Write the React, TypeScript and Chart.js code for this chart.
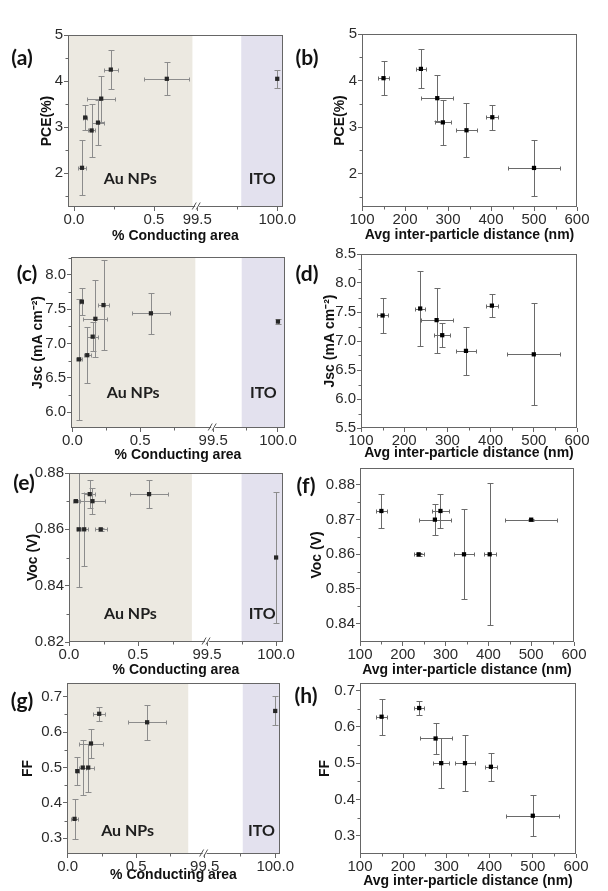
import React, { useEffect, useRef } from "react";
import { Chart, registerables } from "chart.js";
Chart.register(...registerables);

// ---------------- DATA (ordered by inter-particle distance) ----------------
const distance = [150, 237, 275, 288, 343, 403, 500];
const distanceErr = [12, 12, 37, 19, 24, 14, 61];
const area = [0.58, 0.23, 0.17, 0.15, 0.11, 0.07, 0.05];
const areaErr = [0.14, 0.044, 0.088, 0.039, 0.024, 0.012, 0.024];
const pce = [4.05, 4.25, 3.62, 3.1, 2.93, 3.21, 2.12];
const pceErr = [0.36, 0.42, 0.5, 0.48, 0.58, 0.27, 0.6];
const jsc = [7.44, 7.56, 7.36, 7.1, 6.83, 7.61, 6.77];
const jscErr = [0.3, 0.65, 0.56, 0.21, 0.41, 0.2, 0.88];
const voc = [0.8725, 0.86, 0.87, 0.8725, 0.86, 0.86, 0.87];
const vocErr = [0.005, 0.0005, 0.0045, 0.005, 0.013, 0.0205, 0.0003];
const ff = [0.628, 0.652, 0.568, 0.5, 0.5, 0.49, 0.355];
const ffErr = [0.05, 0.02, 0.042, 0.068, 0.077, 0.039, 0.057];

// ITO reference (conducting area 100 %): PCE, Jsc, Voc, FF
const itoArea = 100;
const itoValues = [4.05, 7.32, 0.85, 0.66];
const itoErrs = [0.19, 0.03, 0.0233, 0.041];

// ---------------- TICKS ----------------
const areaTickValues = [0, 0.5, 99.5, 100];
const areaTickLabels = ["0.0", "0.5", "99.5", "100.0"];
const areaMinorValues = [0.25, 0.75, 99.75];
const distTickValues = [100, 200, 300, 400, 500, 600];
const distTickLabels = ["100", "200", "300", "400", "500", "600"];
const distMinorValues = [150, 250, 350, 450, 550];

const pceTicks = [2, 3, 4, 5];
const pceTickLabels = ["2", "3", "4", "5"];
const pceMinor = [1.5, 2.5, 3.5, 4.5];
const jscTicksLeft = [6.0, 6.5, 7.0, 7.5, 8.0];
const jscTickLabelsLeft = ["6.0", "6.5", "7.0", "7.5", "8.0"];
const jscTicksRight = [5.5, 6.0, 6.5, 7.0, 7.5, 8.0, 8.5];
const jscTickLabelsRight = ["5.5", "6.0", "6.5", "7.0", "7.5", "8.0", "8.5"];
const jscMinor = [5.75, 6.25, 6.75, 7.25, 7.75, 8.25];
const vocTicksLeft = [0.82, 0.84, 0.86, 0.88];
const vocTickLabelsLeft = ["0.82", "0.84", "0.86", "0.88"];
const vocMinorLeft = [0.83, 0.85, 0.87];
const vocTicksRight = [0.84, 0.85, 0.86, 0.87, 0.88];
const vocTickLabelsRight = ["0.84", "0.85", "0.86", "0.87", "0.88"];
const vocMinorRight = [0.845, 0.855, 0.865, 0.875];
const ffTicks = [0.3, 0.4, 0.5, 0.6, 0.7];
const ffTickLabels = ["0.3", "0.4", "0.5", "0.6", "0.7"];
const ffMinor = [0.35, 0.45, 0.55, 0.65];

// ---------------- LAYOUT / STYLE ----------------
const FONT = "'Liberation Sans', Arial, Helvetica, sans-serif";
const LABEL_FONT = "Lato, 'Open Sans', sans-serif";
const AU_COLOR = "#ece9e1";
const ITO_COLOR = "#e3e1ee";
const FRAME = "#666666";
const TITLE_LH = 14 * 1.2;

type Panel = {
  key: string;
  label: string;
  lx: number;
  ly: number;
  col: number;
  plot: [number, number, number, number];
  yTitleX: number;
  xTitleY: number;
  broken: boolean;
  yTitle: string;
  yMin: number;
  yMax: number;
  yVals: number[];
  yErr: number[];
  yTicks: number[];
  yLabels: string[];
  yMinor: number[];
  ito?: number;
  xMin?: number;
  xMax?: number;
  ub?: number;
  k?: number;
  auEnd?: number;
  itoStart?: number;
  textOff?: number;
};

const panels: Panel[] = [
  { key: "a", label: "(a)", lx: 22, ly: 56, col: 0, plot: [68, 35, 283, 207], yTitleX: 47, xTitleY: 236, broken: true,
    yTitle: "PCE(%)", yMin: 1.27, yMax: 5, yVals: pce, yErr: pceErr, yTicks: pceTicks, yLabels: pceTickLabels, yMinor: pceMinor,
    ito: 0, xMin: -0.0375, xMax: 1.306, ub: 0.77, k: 1.0, auEnd: 0.74, itoStart: 99.775, textOff: 28 },
  { key: "b", label: "(b)", lx: 307, ly: 56, col: 1, plot: [362, 34, 577, 207], yTitleX: 340, xTitleY: 235, broken: false,
    yTitle: "PCE(%)", yMin: 1.28, yMax: 5, yVals: pce, yErr: pceErr, yTicks: pceTicks, yLabels: pceTickLabels, yMinor: pceMinor },
  { key: "c", label: "(c)", lx: 27, ly: 272, col: 0, plot: [71, 257, 285, 428], yTitleX: 38, xTitleY: 455, broken: true,
    yTitle: "Jsc (mA cm\u207B\u00B2)", yMin: 5.77, yMax: 8.26, yVals: jsc, yErr: jscErr, yTicks: jscTicksLeft, yLabels: jscTickLabelsLeft, yMinor: jscMinor,
    ito: 1, xMin: -0.01, xMax: 1.57, ub: 1.04, k: 0.956, auEnd: 0.908, itoStart: 99.72, textOff: 35 },
  { key: "d", label: "(d)", lx: 307, ly: 272, col: 1, plot: [361, 254, 577, 428], yTitleX: 330, xTitleY: 453, broken: false,
    yTitle: "Jsc (mA cm\u207B\u00B2)", yMin: 5.5, yMax: 8.5, yVals: jsc, yErr: jscErr, yTicks: jscTicksRight, yLabels: jscTickLabelsRight, yMinor: jscMinor },
  { key: "e", label: "(e)", lx: 24, ly: 481, col: 0, plot: [69, 473, 283, 642], yTitleX: 33, xTitleY: 670, broken: true,
    yTitle: "Voc (V)", yMin: 0.82, yMax: 0.88, yVals: voc, yErr: vocErr, yTicks: vocTicksLeft, yLabels: vocTickLabelsLeft, yMinor: vocMinorLeft,
    ito: 2, xMin: 0, xMax: 1.55, ub: 1.0, k: 1.0, auEnd: 0.89, itoStart: 99.75, textOff: 28 },
  { key: "f", label: "(f)", lx: 306, ly: 484, col: 1, plot: [360, 468, 574, 642], yTitleX: 317, xTitleY: 670, broken: false,
    yTitle: "Voc (V)", yMin: 0.8347, yMax: 0.8849, yVals: voc, yErr: vocErr, yTicks: vocTicksRight, yLabels: vocTickLabelsRight, yMinor: vocMinorRight },
  { key: "g", label: "(g)", lx: 22, ly: 699, col: 0, plot: [67, 683, 280, 854], yTitleX: 28, xTitleY: 875, broken: true,
    yTitle: "FF", yMin: 0.2557, yMax: 0.739, yVals: ff, yErr: ffErr, yTicks: ffTicks, yLabels: ffTickLabels, yMinor: ffMinor,
    ito: 3, xMin: -0.005, xMax: 1.55, ub: 1.0, k: 1.03, auEnd: 0.88, itoStart: 99.77, textOff: 23 },
  { key: "h", label: "(h)", lx: 306, ly: 694, col: 1, plot: [360, 683, 576, 854], yTitleX: 325, xTitleY: 881, broken: false,
    yTitle: "FF", yMin: 0.2495, yMax: 0.721, yVals: ff, yErr: ffErr, yTicks: ffTicks, yLabels: ffTickLabels, yMinor: ffMinor },
];

function PanelChart({ p }: { p: Panel }) {
  const ref = useRef<HTMLCanvasElement>(null);
  const colX = p.col * 304;
  const [L, T, R, B] = p.plot;
  const padTop = 12;
  const top = T - padTop;
  const height = Math.round(p.xTitleY + 12 - top);
  const padL = p.yTitleX - TITLE_LH / 2 - colX;
  const yW = L - colX - padL;
  const xH = p.xTitleY + TITLE_LH / 2 - B;
  const padR = colX + 304 - R;
  const padB = height - padTop - (B - T) - xH;

  useEffect(() => {
    if (!ref.current) return;
    const toU = (x: number) =>
      p.broken ? (x < 50 ? x : (p.ub as number) + (x - 99.5) * (p.k as number)) : x;
    const xVals = p.broken ? area : distance;
    const xErr = p.broken ? areaErr : distanceErr;
    const xTickVals = (p.broken ? areaTickValues : distTickValues).map(toU);
    const xTickLabels = p.broken ? areaTickLabels : distTickLabels;
    const xMinor = (p.broken ? areaMinorValues : distMinorValues)
      .filter((v) => !(p.broken && v < 50 && toU(v) > (p.ub as number) - 0.06))
      .map(toU);
    const ptColor = p.broken ? "#262626" : "#000000";
    const errColor = p.broken ? "#8c8c8c" : "#6a6a6a";

    const errPts: { x: number; y: number; xe: number; ye: number }[] = xVals.map((v, i) => ({
      x: v, y: p.yVals[i], xe: xErr[i], ye: p.yErr[i],
    }));
    if (p.broken && p.ito !== undefined) {
      errPts.push({ x: itoArea, y: itoValues[p.ito], xe: 0, ye: itoErrs[p.ito] });
    }

    const decor = {
      id: "decor_" + p.key,
      beforeDatasetsDraw(chart: any) {
        const { ctx, chartArea: ca, scales } = chart;
        const xs = scales.x, ys = scales.y;
        ctx.save();
        if (p.broken) {
          const auPx = xs.getPixelForValue(p.auEnd as number);
          ctx.fillStyle = AU_COLOR;
          ctx.fillRect(ca.left, ca.top, auPx - ca.left, ca.bottom - ca.top);
          const itoPx = xs.getPixelForValue(toU(p.itoStart as number));
          ctx.fillStyle = ITO_COLOR;
          ctx.fillRect(itoPx, ca.top, ca.right - itoPx, ca.bottom - ca.top);
        }
        ctx.beginPath();
        ctx.rect(ca.left, ca.top, ca.right - ca.left, ca.bottom - ca.top);
        ctx.clip();
        ctx.strokeStyle = errColor;
        ctx.lineWidth = 1;
        const cap = 3;
        const xcap = 2;
        for (const e of errPts) {
          const px = xs.getPixelForValue(toU(e.x));
          const py = ys.getPixelForValue(e.y);
          const cx = Math.round(px) + 0.5;
          const cy = Math.round(py) + 0.5;
          if (e.ye > 0) {
            const yt = Math.round(ys.getPixelForValue(e.y + e.ye)) + 0.5;
            const yb = Math.round(ys.getPixelForValue(e.y - e.ye)) + 0.5;
            ctx.beginPath();
            ctx.moveTo(cx, yt); ctx.lineTo(cx, yb);
            ctx.moveTo(cx - cap, yt); ctx.lineTo(cx + cap, yt);
            ctx.moveTo(cx - cap, yb); ctx.lineTo(cx + cap, yb);
            ctx.stroke();
          }
          if (e.xe > 0) {
            const xl = Math.round(xs.getPixelForValue(toU(e.x - e.xe))) + 0.5;
            const xr = Math.round(xs.getPixelForValue(toU(e.x + e.xe))) + 0.5;
            ctx.beginPath();
            ctx.moveTo(xl, cy); ctx.lineTo(xr, cy);
            ctx.moveTo(xl, cy - xcap); ctx.lineTo(xl, cy + xcap);
            ctx.moveTo(xr, cy - xcap); ctx.lineTo(xr, cy + xcap);
            ctx.stroke();
          }
        }
        ctx.restore();
      },
      afterDatasetsDraw(chart: any) {
        const { ctx, chartArea: ca, scales } = chart;
        const xs = scales.x, ys = scales.y;
        ctx.save();
        // frame
        ctx.strokeStyle = FRAME;
        ctx.lineWidth = 1;
        const l = Math.round(ca.left) + 0.5, t = Math.round(ca.top) + 0.5;
        const r = Math.round(ca.right) - 0.5, b = Math.round(ca.bottom) - 0.5;
        ctx.strokeRect(l, t, r - l, b - t);
        // minor ticks
        ctx.beginPath();
        for (const v of xMinor) {
          const px = Math.round(xs.getPixelForValue(v)) + 0.5;
          ctx.moveTo(px, b); ctx.lineTo(px, b + 3);
        }
        for (const v of p.yMinor) {
          if (v < p.yMin || v > p.yMax) continue;
          const py = Math.round(ys.getPixelForValue(v)) + 0.5;
          ctx.moveTo(l, py); ctx.lineTo(l - 3, py);
        }
        ctx.stroke();
        if (p.broken) {
          // axis break marks
          const bx = xs.getPixelForValue(p.ub as number);
          ctx.fillStyle = "#ffffff";
          ctx.fillRect(bx - 2, b - 1, 4, 2);
          ctx.strokeStyle = "#555";
          ctx.beginPath();
          ctx.moveTo(bx - 5, b + 3); ctx.lineTo(bx - 1, b - 4);
          ctx.moveTo(bx - 1, b + 3); ctx.lineTo(bx + 3, b - 4);
          ctx.stroke();
          // region labels
          const auPx = xs.getPixelForValue(p.auEnd as number);
          const itoPx = xs.getPixelForValue(toU(p.itoStart as number));
          ctx.fillStyle = "#1e1e1e";
          ctx.font = `bold 16px ${LABEL_FONT}`;
          ctx.textAlign = "center";
          ctx.textBaseline = "middle";
          const ty = ca.bottom - (p.textOff as number);
          ctx.fillText("Au NPs", (ca.left + auPx) / 2, ty);
          ctx.fillText("ITO", (itoPx + ca.right) / 2, ty);
        }
        ctx.restore();
      },
    };

    const datasets: any[] = [
      {
        data: xVals.map((v, i) => ({ x: toU(v), y: p.yVals[i] })),
        pointStyle: "rect",
        pointRadius: 3,
        backgroundColor: ptColor,
        borderColor: ptColor,
        borderWidth: 0,
        showLine: false,
      },
    ];
    if (p.broken && p.ito !== undefined) {
      datasets.push({
        data: [{ x: toU(itoArea), y: itoValues[p.ito] }],
        pointStyle: "rect",
        pointRadius: 3,
        backgroundColor: ptColor,
        borderColor: ptColor,
        borderWidth: 0,
        showLine: false,
      });
    }

    const tickFont = { family: FONT, size: 15, lineHeight: 1 };
    const titleFont = { family: FONT, size: 14, weight: "bold" as const, lineHeight: 1.2 };
    const gridCfg = {
      display: true,
      drawOnChartArea: false,
      drawTicks: true,
      tickLength: 4,
      tickColor: FRAME,
      tickWidth: 1,
    };

    const chart = new Chart(ref.current, {
      type: "scatter",
      data: { datasets },
      plugins: [decor],
      options: {
        responsive: false,
        maintainAspectRatio: false,
        animation: false,
        devicePixelRatio: 1,
        events: [],
        layout: {
          autoPadding: false,
          padding: { left: padL, top: padTop, right: padR, bottom: padB },
        },
        plugins: { legend: { display: false }, tooltip: { enabled: false } },
        scales: {
          x: {
            type: "linear",
            min: p.broken ? (p.xMin as number) : 100,
            max: p.broken ? (p.xMax as number) : 600,
            afterBuildTicks: (s: any) => {
              s.ticks = xTickVals.map((v) => ({ value: v }));
            },
            afterFit: (s: any) => {
              s.height = xH;
            },
            ticks: {
              autoSkip: false,
              maxRotation: 0,
              minRotation: 0,
              padding: 1,
              color: "#2b2b2b",
              font: tickFont,
              callback: (_v: any, i: number) => xTickLabels[i],
            },
            grid: gridCfg,
            border: { display: false },
            title: {
              display: true,
              text: p.broken ? "% Conducting area" : "Avg inter-particle distance (nm)",
              color: "#111",
              font: titleFont,
              padding: 0,
            },
          },
          y: {
            type: "linear",
            min: p.yMin,
            max: p.yMax,
            afterBuildTicks: (s: any) => {
              s.ticks = p.yTicks.map((v) => ({ value: v }));
            },
            afterFit: (s: any) => {
              s.width = yW;
            },
            ticks: {
              autoSkip: false,
              padding: 1,
              color: "#2b2b2b",
              font: tickFont,
              callback: (_v: any, i: number) => p.yLabels[i],
            },
            grid: gridCfg,
            border: { display: false },
            title: {
              display: true,
              text: p.yTitle,
              color: "#111",
              font: titleFont,
              padding: 0,
            },
          },
        },
      } as any,
    });
    return () => chart.destroy();
  }, []);

  return (
    <canvas
      ref={ref}
      width={304}
      height={height}
      style={{ position: "absolute", left: colX, top, width: 304, height }}
    />
  );
}

export default function App() {
  return (
    <div
      style={{
        position: "absolute",
        left: 0,
        top: 0,
        width: 608,
        height: 891,
        background: "#ffffff",
        overflow: "hidden",
      }}
    >
      {panels.map((p) => (
        <PanelChart key={p.key} p={p} />
      ))}
      {panels.map((p) => (
        <div
          key={"lbl" + p.key}
          style={{
            position: "absolute",
            left: p.lx,
            top: p.ly,
            transform: "translate(-50%, -50%)",
            fontFamily: LABEL_FONT,
            fontWeight: 700,
            fontSize: 21,
            lineHeight: "21px",
            color: "#111",
            whiteSpace: "nowrap",
          }}
        >
          {p.label}
        </div>
      ))}
    </div>
  );
}
